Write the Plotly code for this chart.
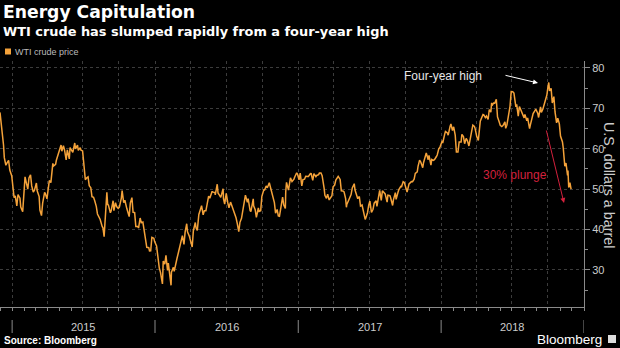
import plotly.graph_objects as go

# ---------------- data (WTI crude, USD/bbl) ----------------
dates = [
"2014-12-01","2014-12-05","2014-12-10","2014-12-12","2014-12-16","2014-12-19","2014-12-23","2014-12-26","2014-12-31",
"2015-01-06","2015-01-09","2015-01-13","2015-01-16","2015-01-21","2015-01-23","2015-01-28","2015-01-30",
"2015-02-03","2015-02-06","2015-02-10","2015-02-13","2015-02-17","2015-02-20","2015-02-24","2015-02-27",
"2015-03-04","2015-03-06","2015-03-11","2015-03-13","2015-03-17","2015-03-20","2015-03-25","2015-03-27","2015-03-31",
"2015-04-02","2015-04-06","2015-04-10","2015-04-15","2015-04-17","2015-04-22","2015-04-24","2015-04-29",
"2015-05-01","2015-05-06","2015-05-08","2015-05-12","2015-05-15","2015-05-19","2015-05-22","2015-05-27","2015-05-29",
"2015-06-03","2015-06-05","2015-06-10","2015-06-12","2015-06-17","2015-06-19","2015-06-24","2015-06-26","2015-06-30",
"2015-07-02","2015-07-07","2015-07-10","2015-07-14","2015-07-17","2015-07-21","2015-07-24","2015-07-28","2015-07-31",
"2015-08-04","2015-08-07","2015-08-11","2015-08-14","2015-08-19","2015-08-21","2015-08-24","2015-08-27","2015-08-31",
"2015-09-02","2015-09-04","2015-09-09","2015-09-11","2015-09-16","2015-09-18","2015-09-22","2015-09-25","2015-09-29",
"2015-10-02","2015-10-07","2015-10-09","2015-10-13","2015-10-16","2015-10-21","2015-10-23","2015-10-27","2015-10-30",
"2015-11-03","2015-11-06","2015-11-10","2015-11-13","2015-11-18","2015-11-20","2015-11-24","2015-11-27",
"2015-12-01","2015-12-04","2015-12-08","2015-12-11","2015-12-16","2015-12-18","2015-12-21","2015-12-24","2015-12-29","2015-12-31",
"2016-01-05","2016-01-08","2016-01-12","2016-01-15","2016-01-20","2016-01-22","2016-01-26","2016-01-29",
"2016-02-02","2016-02-04","2016-02-05","2016-02-09","2016-02-11","2016-02-12","2016-02-17","2016-02-19","2016-02-23","2016-02-26",
"2016-03-01","2016-03-04","2016-03-09","2016-03-11","2016-03-15","2016-03-18","2016-03-22","2016-03-24","2016-03-29",
"2016-04-01","2016-04-05","2016-04-08","2016-04-13","2016-04-15","2016-04-18","2016-04-22","2016-04-27","2016-04-29",
"2016-05-03","2016-05-06","2016-05-10","2016-05-13","2016-05-17","2016-05-20","2016-05-26","2016-05-27",
"2016-06-02","2016-06-03","2016-06-08","2016-06-10","2016-06-14","2016-06-17","2016-06-23","2016-06-24","2016-06-27",
"2016-07-01","2016-07-05","2016-07-08","2016-07-12","2016-07-15","2016-07-19","2016-07-22","2016-07-26","2016-07-29",
"2016-08-02","2016-08-05","2016-08-09","2016-08-12","2016-08-17","2016-08-19","2016-08-24","2016-08-26","2016-08-31",
"2016-09-02","2016-09-08","2016-09-09","2016-09-13","2016-09-16","2016-09-21","2016-09-23","2016-09-27","2016-09-30",
"2016-10-05","2016-10-07","2016-10-11","2016-10-14","2016-10-19","2016-10-21","2016-10-26","2016-10-28",
"2016-11-01","2016-11-04","2016-11-08","2016-11-11","2016-11-14","2016-11-18","2016-11-22","2016-11-25","2016-11-29","2016-11-30",
"2016-12-02","2016-12-07","2016-12-09","2016-12-12","2016-12-16","2016-12-21","2016-12-23","2016-12-28","2016-12-30",
"2017-01-03","2017-01-06","2017-01-10","2017-01-13","2017-01-17","2017-01-20","2017-01-24","2017-01-27",
"2017-02-01","2017-02-03","2017-02-07","2017-02-10","2017-02-15","2017-02-17","2017-02-22","2017-02-24","2017-02-28",
"2017-03-03","2017-03-08","2017-03-10","2017-03-14","2017-03-17","2017-03-21","2017-03-24","2017-03-28","2017-03-31",
"2017-04-04","2017-04-07","2017-04-12","2017-04-13","2017-04-18","2017-04-21","2017-04-25","2017-04-28",
"2017-05-02","2017-05-04","2017-05-05","2017-05-10","2017-05-12","2017-05-16","2017-05-19","2017-05-24","2017-05-26","2017-05-31",
"2017-06-02","2017-06-06","2017-06-09","2017-06-13","2017-06-16","2017-06-21","2017-06-23","2017-06-27","2017-06-30",
"2017-07-03","2017-07-07","2017-07-11","2017-07-14","2017-07-19","2017-07-21","2017-07-25","2017-07-28",
"2017-08-01","2017-08-04","2017-08-08","2017-08-11","2017-08-16","2017-08-18","2017-08-23","2017-08-25","2017-08-30",
"2017-09-01","2017-09-06","2017-09-08","2017-09-13","2017-09-15","2017-09-20","2017-09-22","2017-09-26","2017-09-29",
"2017-10-04","2017-10-06","2017-10-11","2017-10-13","2017-10-17","2017-10-20","2017-10-24","2017-10-27",
"2017-11-01","2017-11-03","2017-11-07","2017-11-10","2017-11-15","2017-11-17","2017-11-22","2017-11-24","2017-11-29",
"2017-12-01","2017-12-06","2017-12-08","2017-12-12","2017-12-15","2017-12-20","2017-12-22","2017-12-26","2017-12-29",
"2018-01-04","2018-01-05","2018-01-10","2018-01-12","2018-01-17","2018-01-19","2018-01-24","2018-01-26","2018-01-30",
"2018-02-02","2018-02-06","2018-02-09","2018-02-13","2018-02-16","2018-02-21","2018-02-23","2018-02-27",
"2018-03-02","2018-03-06","2018-03-09","2018-03-13","2018-03-16","2018-03-20","2018-03-23","2018-03-27","2018-03-29",
"2018-04-02","2018-04-06","2018-04-11","2018-04-13","2018-04-18","2018-04-20","2018-04-24","2018-04-27",
"2018-05-01","2018-05-04","2018-05-08","2018-05-10","2018-05-11","2018-05-15","2018-05-18","2018-05-22","2018-05-25","2018-05-29",
"2018-06-01","2018-06-05","2018-06-08","2018-06-13","2018-06-15","2018-06-18","2018-06-22","2018-06-26","2018-06-29",
"2018-07-03","2018-07-06","2018-07-11","2018-07-13","2018-07-17","2018-07-20","2018-07-25","2018-07-27",
"2018-08-01","2018-08-03","2018-08-08","2018-08-10","2018-08-15","2018-08-17","2018-08-22","2018-08-24","2018-08-29","2018-08-31",
"2018-09-05","2018-09-07","2018-09-12","2018-09-14","2018-09-18","2018-09-21","2018-09-25","2018-09-28",
"2018-10-01","2018-10-03","2018-10-05","2018-10-09","2018-10-12","2018-10-16","2018-10-19","2018-10-23","2018-10-26","2018-10-30",
"2018-11-02","2018-11-07","2018-11-09","2018-11-13","2018-11-16","2018-11-20","2018-11-21","2018-11-23","2018-11-26","2018-11-28","2018-11-29",
]
prices = [
69.00,65.84,60.94,57.81,55.93,56.52,57.12,54.73,53.27,
47.93,48.36,45.89,48.69,47.78,45.59,44.45,48.24,
53.05,51.69,50.02,52.78,53.53,50.81,49.28,49.76,
51.53,49.61,48.17,44.84,43.46,46.56,49.21,48.87,47.60,
49.14,52.14,51.64,56.39,55.74,56.16,57.15,58.58,
59.15,60.93,59.39,60.75,59.69,57.26,59.72,57.51,60.30,
59.64,59.13,61.43,59.96,60.92,59.61,60.27,59.63,59.47,
56.93,52.33,52.74,53.04,50.89,50.36,48.14,47.98,47.12,
45.74,43.87,43.08,42.50,40.80,40.45,38.24,42.56,49.20,
46.25,46.05,44.15,44.63,47.15,44.68,46.66,45.70,45.23,
45.54,47.81,49.63,46.66,47.26,45.20,44.60,43.20,46.59,
47.90,44.29,44.21,40.74,40.75,40.39,42.87,41.71,
41.85,39.97,37.51,35.62,35.52,34.73,34.74,38.10,37.87,37.04,
35.97,33.16,30.44,29.42,26.55,32.19,31.45,33.62,
29.88,31.72,30.89,27.94,26.21,29.44,30.66,29.64,31.87,32.78,
34.40,35.92,38.29,38.50,36.34,39.44,41.45,39.46,38.28,
36.79,35.70,39.72,41.76,40.36,39.78,43.73,45.33,45.92,
43.65,44.66,44.66,46.21,48.31,47.75,49.48,49.33,
49.17,48.62,51.23,49.07,48.49,47.98,50.11,47.64,46.33,
48.99,46.60,45.41,46.80,45.95,44.65,44.19,42.92,41.60,
39.51,41.80,42.77,44.49,46.79,48.52,46.77,47.64,44.70,
44.44,47.62,45.88,44.90,43.03,45.34,44.48,44.67,48.24,
49.83,49.81,50.79,50.35,51.60,50.85,49.18,48.70,
46.67,44.07,44.98,43.41,43.32,45.69,48.03,46.06,45.23,49.44,
51.68,49.77,51.50,52.83,51.90,52.49,53.02,54.06,53.72,
52.33,53.99,50.82,52.37,52.48,53.22,53.18,53.17,
53.88,53.83,52.17,53.86,53.11,53.40,53.59,53.99,54.01,
53.33,50.28,48.49,47.72,48.78,47.34,47.97,48.37,50.60,
51.03,52.24,53.11,53.18,52.41,49.62,49.56,49.33,
47.66,45.52,46.22,47.33,47.84,48.66,50.33,51.36,49.80,48.32,
47.66,48.19,45.83,46.08,44.74,42.53,43.01,44.24,46.04,
47.07,44.23,45.04,46.54,47.12,45.77,47.89,49.71,
47.23,49.58,49.17,48.82,46.78,48.51,48.41,47.87,45.96,
47.29,49.16,47.48,49.30,49.89,50.69,50.66,51.88,51.67,
49.98,49.29,51.30,51.45,51.88,51.84,52.47,53.90,
54.30,55.64,57.20,56.74,55.33,56.55,58.02,58.95,57.30,
58.36,55.96,57.36,57.14,57.30,58.09,58.47,59.97,60.42,
62.01,61.44,63.57,64.30,63.92,63.37,65.61,66.14,64.50,
65.45,63.39,59.20,59.19,61.68,61.68,63.55,63.01,
61.25,62.57,62.04,60.71,62.34,63.54,65.88,65.55,64.94,
63.01,62.06,66.82,67.39,68.47,68.38,67.70,68.10,
67.25,69.72,69.06,71.36,70.70,71.31,71.28,72.24,67.88,66.73,
65.81,65.52,65.74,66.64,65.06,65.85,68.58,70.53,74.15,
74.14,73.80,70.38,71.01,68.08,70.46,69.30,68.69,
67.66,68.49,66.94,67.63,65.01,65.91,67.86,68.72,69.51,69.80,
68.72,67.75,70.37,68.99,69.85,70.78,72.28,73.25,
75.30,76.41,74.34,74.96,71.34,72.92,69.12,66.43,67.59,66.18,
63.14,61.67,60.19,55.69,56.46,53.43,54.63,50.42,51.63,50.29,50.00,
]
series_name = "WTI crude price"
year_labels = ["2015", "2016", "2017", "2018"]
year_bounds = ["2015-01-01", "2016-01-01", "2017-01-01", "2018-01-01", "2019-01-01"]
year_mids = ["2015-07-02", "2016-07-02", "2017-07-02", "2018-07-02"]
x_range = ["2014-12-01", "2019-01-01"]
y_range = [20.84, 81.73]

# ---------------- geometry helpers (pixels -> paper) ----------------
W, H = 620, 348
PL, PR, PT, PB = 0, 584, 61, 307  # plot box in pixels


def px(x):
    return (x - PL) / (PR - PL)


def py(y):
    return (PB - y) / (PB - PT)


FONT = "Liberation Sans, Arial, sans-serif"
HEAD = "DejaVu Sans, Verdana, sans-serif"
ORANGE = "#f4a23a"
AXIS = "#8a8a8a"
GRID = "#3c3c3c"

fig = go.Figure()
fig.add_trace(go.Scatter(
    x=dates, y=prices, mode="lines", name=series_name,
    line=dict(color=ORANGE, width=1.5), showlegend=False,
))

fig.update_layout(
    width=W, height=H,
    margin=dict(l=PL, r=W - PR, t=PT, b=H - PB, pad=0),
    paper_bgcolor="#000000", plot_bgcolor="#000000",
    font=dict(family=FONT, color="#cccccc"),
    xaxis=dict(
        range=x_range, type="date",
        tick0="2015-01-01", dtick="M3",
        showgrid=True, gridcolor=GRID, griddash="dot", gridwidth=1,
        showticklabels=False, ticks="outside", ticklen=3, tickcolor=AXIS,
        minor=dict(tick0="2015-01-01", dtick="M1", ticks="outside", ticklen=3,
                   tickcolor=AXIS, showgrid=False),
        showline=True, linecolor=AXIS, linewidth=1, zeroline=False,
    ),
    yaxis=dict(
        range=y_range, side="right", tick0=0, dtick=10,
        showgrid=True, gridcolor=GRID, griddash="dot", gridwidth=1,
        ticks="outside", ticklen=5, tickcolor=AXIS,
        tickfont=dict(size=11, color="#cccccc", family=FONT),
        minor=dict(tick0=0, dtick=5, ticks="outside", ticklen=3, tickcolor=AXIS, showgrid=False),
        showline=True, linecolor=AXIS, linewidth=1, zeroline=False,
    ),
)

ann = []
# title and subtitle
ann.append(dict(text="<b>Energy Capitulation</b>", x=px(1), y=py(12.5), xref="paper", yref="paper",
                xanchor="left", yanchor="middle", showarrow=False,
                font=dict(size=17.2, color="#ffffff", family=HEAD)))
ann.append(dict(text="<b>WTI crude has slumped rapidly from a four-year high</b>", x=px(1), y=py(31.5),
                xref="paper", yref="paper", xanchor="left", yanchor="middle", showarrow=False,
                font=dict(size=12.9, color="#ffffff", family=HEAD)))
# legend
ann.append(dict(text=series_name, x=px(13), y=py(51.5), xref="paper", yref="paper",
                xanchor="left", yanchor="middle", showarrow=False,
                font=dict(size=9, color="#bbbbbb", family=FONT)))
# year labels
for lab, mid in zip(year_labels, year_mids):
    ann.append(dict(text=lab, x=mid, y=py(327), xref="x", yref="paper",
                    xanchor="center", yanchor="middle", showarrow=False,
                    font=dict(size=11, color="#cccccc", family=FONT)))
# y-axis title
ann.append(dict(text="U.S. dollars a barrel", x=px(609), y=py(185), xref="paper", yref="paper",
                xanchor="center", yanchor="middle", showarrow=False, textangle=90,
                font=dict(size=14.3, color="#cccccc", family=FONT)))
# source + brand
ann.append(dict(text="<b>Source: Bloomberg</b>", x=px(2), y=py(340), xref="paper", yref="paper",
                xanchor="left", yanchor="middle", showarrow=False,
                font=dict(size=10, color="#ffffff", family=FONT)))
ann.append(dict(text="Bloomberg", x=px(604), y=py(339), xref="paper", yref="paper",
                xanchor="right", yanchor="middle", showarrow=False,
                font=dict(size=13.5, color="#ffffff", family=FONT)))
# call-outs
ann.append(dict(text="Four-year high", x=px(402), y=py(76), xref="paper", yref="paper",
                xanchor="left", yanchor="middle", showarrow=False,
                font=dict(size=12, color="#e6e6e6", family=FONT)))
ann.append(dict(text="", x=px(538), y=py(83), xref="paper", yref="paper",
                showarrow=True, ax=-34, ay=-8, arrowhead=2, arrowsize=1, arrowwidth=1,
                arrowcolor="#ffffff"))
ann.append(dict(text="30% plunge", x=px(481), y=py(175), xref="paper", yref="paper",
                xanchor="left", yanchor="middle", showarrow=False,
                font=dict(size=12, color="#d4213d", family=FONT)))
ann.append(dict(text="", x=px(564), y=py(203), xref="paper", yref="paper",
                showarrow=True, ax=-18, ay=-74, arrowhead=2, arrowsize=1, arrowwidth=1,
                arrowcolor="#d4213d"))
fig.update_layout(annotations=ann)

shapes = []
# legend swatch
shapes.append(dict(type="rect", xref="paper", yref="paper", x0=px(5), x1=px(11), y0=py(54.5), y1=py(48.5),
                   fillcolor=ORANGE, line=dict(width=0)))
# year separators below the axis
for b in year_bounds:
    shapes.append(dict(type="line", xref="x", yref="paper", x0=b, x1=b, y0=py(320), y1=py(333),
                       line=dict(color=AXIS, width=1)))
# brand icon
shapes.append(dict(type="rect", xref="paper", yref="paper", x0=px(608), x1=px(616), y0=py(343), y1=py(335),
                   fillcolor="#dddddd", line=dict(width=0)))
fig.update_layout(shapes=shapes)

fig.write_html("out.html")
